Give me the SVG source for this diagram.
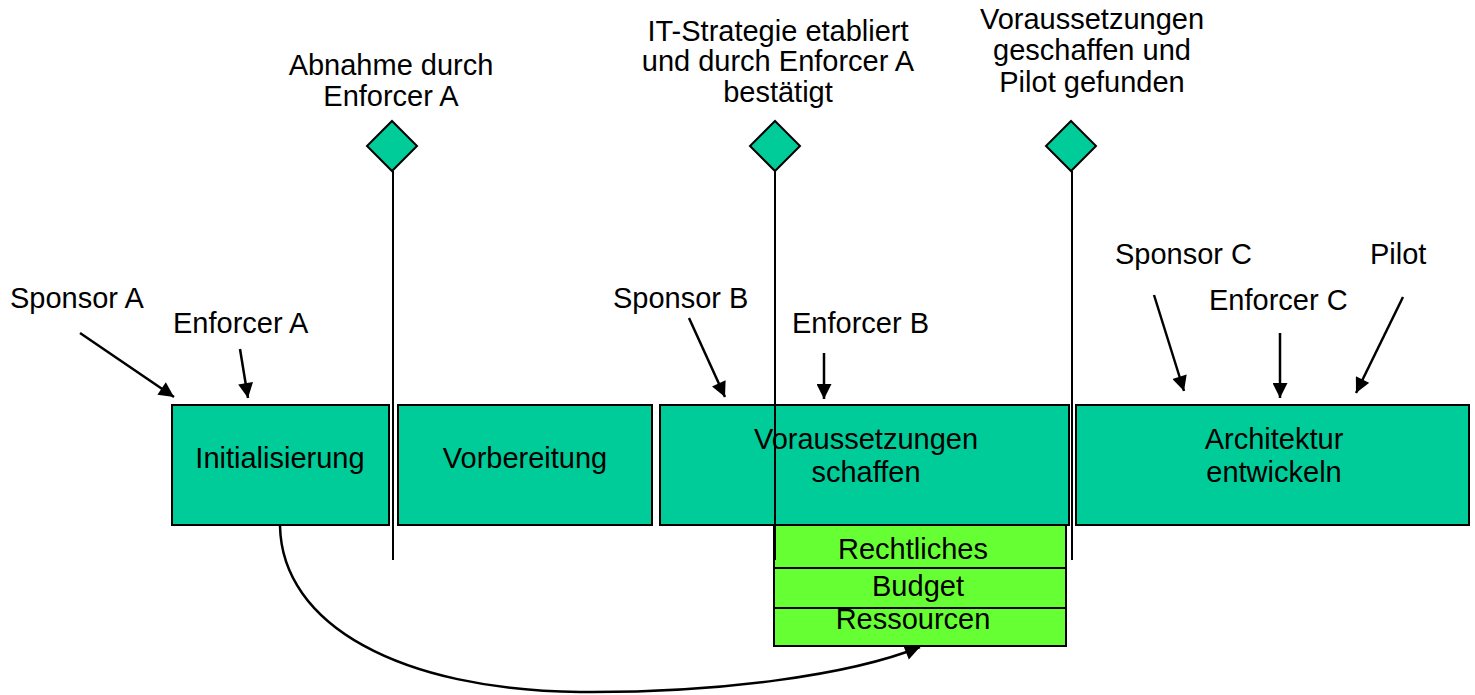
<svg xmlns="http://www.w3.org/2000/svg" width="1475" height="695" viewBox="0 0 1475 695">
  <style>
    text { font-family: "Liberation Sans", Arial, sans-serif; font-size: 29px; fill: #000; }
    .c { text-anchor: middle; }
    .phase { fill: #00CC99; stroke: #000; stroke-width: 2; }
    .item { fill: #66FF33; stroke: #000; stroke-width: 2; }
    .ms { fill: #00CC99; stroke: #000; stroke-width: 2; }
    .pole { stroke: #000; stroke-width: 2; fill: none; }
    .arrow { stroke: #000; stroke-width: 2.5; fill: none; marker-end: url(#head); }
  </style>
  <defs>
    <marker id="head" viewBox="0 0 10 10" refX="10" refY="5" markerUnits="userSpaceOnUse" markerWidth="16" markerHeight="15" orient="auto">
      <path d="M0,0 L10,5 L0,10 Z" fill="#000"/>
    </marker>
  </defs>

  <rect width="1475" height="695" fill="#fff"/>

  <!-- phases -->
  <g id="phase-init">
    <rect class="phase" x="172" y="405" width="217" height="120"/>
    <text class="c" x="280" y="468">Initialisierung</text>
  </g>
  <g id="phase-prep">
    <rect class="phase" x="398" y="405" width="254" height="120"/>
    <text class="c" x="525" y="468">Vorbereitung</text>
  </g>
  <g id="phase-prereq">
    <rect class="phase" x="660" y="405" width="409" height="120"/>
    <text class="c" x="866" y="449">Voraussetzungen</text>
    <text class="c" x="866" y="482">schaffen</text>
  </g>
  <g id="phase-arch">
    <rect class="phase" x="1076" y="405" width="393" height="120"/>
    <text class="c" x="1274" y="449">Architektur</text>
    <text class="c" x="1274" y="482">entwickeln</text>
  </g>

  <!-- prerequisite items -->
  <g id="item-legal">
    <rect class="item" x="774" y="525" width="292" height="43"/>
    <text class="c" x="913" y="559">Rechtliches</text>
  </g>
  <g id="item-budget">
    <rect class="item" x="774" y="568" width="292" height="40"/>
    <text class="c" x="918" y="596">Budget</text>
  </g>
  <g id="item-resources">
    <rect class="item" x="774" y="608" width="292" height="38"/>
    <text class="c" x="913" y="629">Ressourcen</text>
  </g>

  <!-- milestones -->
  <g id="ms-acceptance">
    <line class="pole" x1="393" y1="171" x2="393" y2="560"/>
    <path class="ms" d="M392,121 L417,146 L392,171 L367,146 Z"/>
    <text class="c" x="391" y="75">Abnahme durch</text>
    <text class="c" x="391" y="106">Enforcer A</text>
  </g>
  <g id="ms-strategy">
    <line class="pole" x1="775" y1="171" x2="775" y2="560"/>
    <path class="ms" d="M775,121 L800,146 L775,171 L750,146 Z"/>
    <text class="c" x="778" y="41">IT-Strategie etabliert</text>
    <text class="c" x="778" y="71">und durch Enforcer A</text>
    <text class="c" x="778" y="102">bestätigt</text>
  </g>
  <g id="ms-pilot">
    <line class="pole" x1="1072" y1="171" x2="1072" y2="560"/>
    <path class="ms" d="M1071,121 L1096,146 L1071,171 L1046,146 Z"/>
    <text class="c" x="1092" y="29">Voraussetzungen</text>
    <text class="c" x="1092" y="60">geschaffen und</text>
    <text class="c" x="1092" y="92">Pilot gefunden</text>
  </g>

  <!-- roles -->
  <g id="role-sponsor-a"><text x="10" y="308">Sponsor A</text></g>
  <g id="role-enforcer-a"><text x="173" y="333">Enforcer A</text></g>
  <g id="role-sponsor-b"><text x="613" y="308">Sponsor B</text></g>
  <g id="role-enforcer-b"><text x="792" y="333">Enforcer B</text></g>
  <g id="role-sponsor-c"><text x="1115" y="264">Sponsor C</text></g>
  <g id="role-enforcer-c"><text x="1209" y="310">Enforcer C</text></g>
  <g id="role-pilot"><text x="1370" y="264">Pilot</text></g>

  <!-- connectors -->
  <g id="connectors">
    <line class="arrow" x1="80" y1="333" x2="174" y2="397"/>
    <line class="arrow" x1="240" y1="349" x2="248" y2="398"/>
    <line class="arrow" x1="689" y1="318" x2="725" y2="397"/>
    <line class="arrow" x1="824" y1="353" x2="824" y2="399"/>
    <line class="arrow" x1="1154" y1="295" x2="1184" y2="391"/>
    <line class="arrow" x1="1280" y1="333" x2="1280" y2="398"/>
    <line class="arrow" x1="1403" y1="297" x2="1356" y2="393"/>
    <path class="arrow" d="M280,526 C282,625 400,690 580,692 C720,693 850,675 920,647"/>
  </g>
</svg>
